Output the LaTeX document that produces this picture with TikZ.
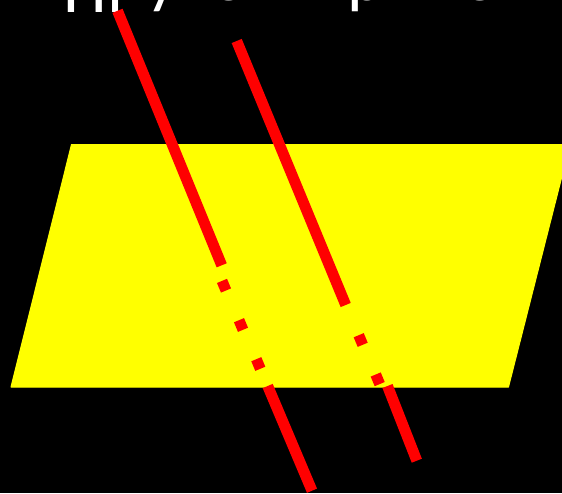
\documentclass[tikz,border=0pt]{standalone}
\usepackage{fontspec}
\setmainfont{Carlito}
\definecolor{pureyellow}{RGB}{255,255,0}
\definecolor{purered}{RGB}{255,0,0}
\tikzset{
  redbar/.style={draw=purered,line width=10.9pt,line cap=butt},
  toptext/.style={text=white,font=\fontsize{70}{70}\selectfont,inner sep=0pt,anchor=base}
}
\begin{document}
\begin{tikzpicture}[x=1pt,y=-1pt]
\useasboundingbox (0,0) rectangle (562,493);
\clip (0,0) rectangle (562,493);
\fill[black] (0,0) rectangle (562,493);
\filldraw[pureyellow,line width=1pt,line join=round] (71.5,144.5) -- (11,387) -- (508.5,387) -- (570,144.5) -- cycle;
\node[toptext] (t1) at (85,12.7) {H};
\node[toptext] (t2) at (115.5,12.7) {i};
\node[toptext] (t3) at (162,0.3) {y};
\node[toptext] (t4) at (229,0.3) {o};
\node[toptext] (t5) at (366,0.3) {p};
\node[toptext] (t6) at (479,0.3) {e};
% left line
\draw[redbar] (117.5,10.8) -- (221.7,265.3);
\draw[redbar] (222,280.9) -- (226,290.5);
\draw[redbar] (239,320.2) -- (243,329.8);
\draw[redbar] (256.3,359.2) -- (260.3,368.8);
\draw[redbar] (267.7,386) -- (312,490.7);
% right line
\draw[redbar] (236.7,41) -- (345.7,305);
\draw[redbar] (358.7,335.2) -- (362.7,344.8);
\draw[redbar] (375.7,374.5) -- (379.7,384.1);
\draw[redbar] (387.5,386) -- (416.8,460.7);
\end{tikzpicture}
\end{document}
